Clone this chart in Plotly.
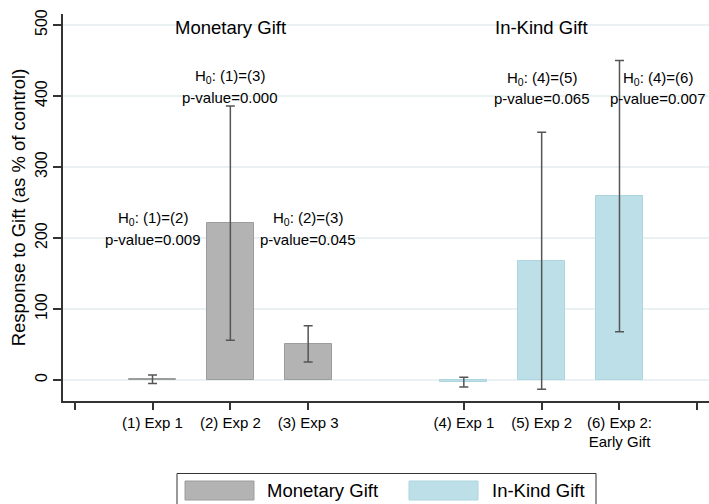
import plotly.graph_objects as go

# ---- data ----
monetary_labels = ["(1) Exp 1", "(2) Exp 2", "(3) Exp 3"]
monetary_values = [1, 221, 51]
monetary_err = [6, 165, 25.5]

inkind_labels = ["(4) Exp 1", "(5) Exp 2", "(6) Exp 2:<br>Early Gift"]
inkind_values = [-3, 168, 259]
inkind_err = [7, 181, 191]

group_titles = ["Monetary Gift", "In-Kind Gift"]
tests = ["H<sub>0</sub>: (1)=(2)", "H<sub>0</sub>: (1)=(3)", "H<sub>0</sub>: (2)=(3)",
         "H<sub>0</sub>: (4)=(5)", "H<sub>0</sub>: (4)=(6)"]
pvalues = ["p-value=0.009", "p-value=0.000", "p-value=0.045",
           "p-value=0.065", "p-value=0.007"]
ytick_vals = [0, 100, 200, 300, 400, 500]

# ---- layout geometry ----
W, H = 709, 504
ML, MR, MT, MB = 63, 0, 14, 103
FONT = "Arial, Liberation Sans, Helvetica, sans-serif"

mon_x = [i + 1 for i in range(len(monetary_values))]
ink_x = [i + 5 for i in range(len(inkind_values))]

GRAY = "#b3b3b3"
BLUE = "#bde0e8"

fig = go.Figure()
fig.add_trace(go.Bar(
    x=mon_x, y=monetary_values, width=0.6, name="Monetary Gift",
    marker=dict(color=GRAY, line=dict(color="#9c9c9c", width=1)),
    error_y=dict(type="data", array=monetary_err, color="#555555", thickness=1.5, width=4.5),
    showlegend=False))
fig.add_trace(go.Bar(
    x=ink_x, y=inkind_values, width=0.6, name="In-Kind Gift",
    marker=dict(color=BLUE, line=dict(color="#acd5df", width=1)),
    error_y=dict(type="data", array=inkind_err, color="#555555", thickness=1.5, width=4.5),
    showlegend=False))

annotations = []
# group titles
for gx, t in zip([mon_x[1], ink_x[1]], group_titles):
    annotations.append(dict(x=gx, y=497, xref="x", yref="y", text=t, showarrow=False,
                            font=dict(size=18.5, color="#000"), xanchor="center", yanchor="middle"))
# hypothesis tests
test_x = [mon_x[0], mon_x[1], mon_x[2], (ink_x[0] + ink_x[1]) / 2 + 0.5, (ink_x[1] + ink_x[2]) / 2 + 1.0]
test_y = [227, 427, 227, 425, 425]
for tx, ty, t, p in zip(test_x, test_y, tests, pvalues):
    annotations.append(dict(x=tx, y=ty, xref="x", yref="y", text=t, showarrow=False,
                            font=dict(size=15, color="#000"), xanchor="center", yanchor="middle"))
    annotations.append(dict(x=tx, y=ty - 29, xref="x", yref="y", text=p, showarrow=False,
                            font=dict(size=15, color="#000"), xanchor="center", yanchor="middle"))

# custom legend (pixel helpers -> paper coords)
pw, ph = W - ML - MR, H - MT - MB
def px(x):
    return (x - ML) / pw
def py(y):
    return (H - MB - y) / ph

shapes = [
    dict(type="rect", xref="paper", yref="paper", x0=px(177), x1=px(596), y0=py(520), y1=py(473.5),
         line=dict(color="#333333", width=1), fillcolor="white", layer="above"),
    dict(type="rect", xref="paper", yref="paper", x0=px(185), x1=px(254), y0=py(500), y1=py(481),
         line=dict(color="#9c9c9c", width=1), fillcolor=GRAY, layer="above"),
    dict(type="rect", xref="paper", yref="paper", x0=px(409), x1=px(478), y0=py(500), y1=py(481),
         line=dict(color="#acd5df", width=1), fillcolor=BLUE, layer="above"),
]
annotations.append(dict(x=px(265), y=py(490.5), xref="paper", yref="paper", text="Monetary Gift",
                        showarrow=False, xanchor="left", yanchor="middle", font=dict(size=18.5, color="#000")))
annotations.append(dict(x=px(490), y=py(490.5), xref="paper", yref="paper", text="In-Kind Gift",
                        showarrow=False, xanchor="left", yanchor="middle", font=dict(size=18.5, color="#000")))

xt_vals = [0] + mon_x + ink_x + [8]
xt_text = [""] + monetary_labels + inkind_labels + [""]

fig.update_layout(
    width=W, height=H, margin=dict(l=ML, r=MR, t=MT, b=MB, autoexpand=False),
    plot_bgcolor="white", paper_bgcolor="white",
    font=dict(family=FONT, color="#000"),
    annotations=annotations, shapes=shapes, bargap=0,
    xaxis=dict(range=[-0.15, 8.15], tickvals=xt_vals, ticktext=xt_text, ticks="outside",
               ticklen=7, tickwidth=1.5, tickcolor="#333", showline=True, linecolor="#333",
               linewidth=1.5, showgrid=False, zeroline=False, tickfont=dict(size=15),
               automargin=False),
    yaxis=dict(range=[-29.6, 515.5], tickvals=ytick_vals, ticks="outside", ticklen=8,
               tickwidth=1.5, tickcolor="#333", showline=True, linecolor="#333", linewidth=1.5,
               showgrid=True, gridcolor="#e9f1f3", gridwidth=1.5, zeroline=False,
               tickangle=-90, tickfont=dict(size=16), automargin=False,
               title=dict(text="Response to Gift (as % of control)", font=dict(size=18.5), standoff=2)),
)

fig.write_html("out.html", config={"displayModeBar": False},
               post_script="document.body.style.margin='0';document.body.style.overflow='hidden';")
